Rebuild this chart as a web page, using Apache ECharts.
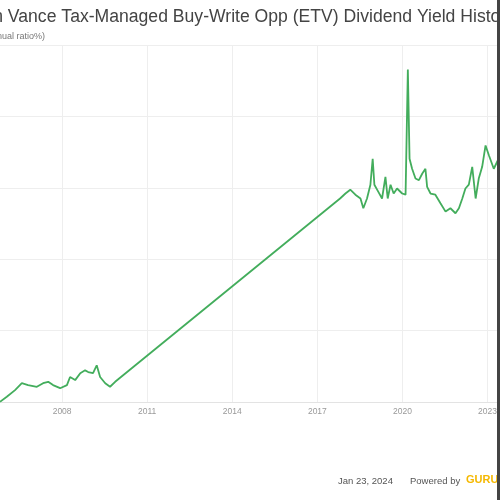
<!DOCTYPE html>
<html>
<head>
<meta charset="utf-8">
<script src="https://cdn.jsdelivr.net/npm/echarts@6/dist/echarts.min.js"></script>
<style>html,body{margin:0;padding:0;background:#fff;}#chart{width:500px;height:500px;}</style>
</head>
<body>
<div id="chart"></div>
<script>
const titleText = 'Eaton Vance Tax-Managed Buy-Write Opp (ETV) Dividend Yield History';
const subtitleText = '(Annual ratio%)';
const dateText = 'Jan 23, 2024';
const poweredText = 'Powered by';
const brandText = 'GURUFOCUS';
const tickYears = [2008, 2011, 2014, 2017, 2020, 2023];

const years = [2005.81, 2006.05, 2006.34, 2006.58, 2006.80, 2007.11, 2007.33, 2007.51, 2007.68, 2007.93,
  2008.17, 2008.28, 2008.46, 2008.64, 2008.81, 2008.92, 2009.09, 2009.22, 2009.34, 2009.52, 2009.69, 2009.87,
  2017.80, 2017.99, 2018.16, 2018.34, 2018.52, 2018.62, 2018.75, 2018.87, 2018.95, 2019.01, 2019.15, 2019.28,
  2019.40, 2019.48, 2019.58, 2019.69, 2019.81, 2019.99, 2020.11, 2020.19, 2020.25, 2020.34, 2020.46, 2020.58,
  2020.70, 2020.81, 2020.87, 2020.99, 2021.16, 2021.34, 2021.52, 2021.69, 2021.87, 2021.99, 2022.11, 2022.22,
  2022.34, 2022.46, 2022.58, 2022.69, 2022.81, 2022.93, 2023.05, 2023.22, 2023.39];
const yields = [0.01, 0.22, 0.50, 0.79, 0.71, 0.64, 0.79, 0.85, 0.71, 0.58,
  0.71, 1.05, 0.92, 1.21, 1.33, 1.26, 1.21, 1.54, 1.05, 0.79, 0.64, 0.85,
  8.55, 8.76, 8.92, 8.71, 8.55, 8.14, 8.55, 9.13, 10.22, 9.13, 8.83, 8.55,
  9.46, 8.55, 9.13, 8.76, 8.97, 8.76, 8.71, 13.97, 10.22, 9.80, 9.39, 9.32,
  9.60, 9.80, 9.04, 8.76, 8.71, 8.35, 8.00, 8.14, 7.93, 8.14, 8.55, 8.97,
  9.13, 9.88, 8.55, 9.39, 9.88, 10.78, 10.36, 9.80, 10.22];

const chart = echarts.init(document.getElementById('chart'), null, {renderer: 'canvas'});
chart.setOption({
  animation: false,
  backgroundColor: '#ffffff',
  title: [{
    text: titleText,
    left: -48,
    top: 3,
    textStyle: {fontFamily: 'Liberation Sans', fontSize: 17.6, fontWeight: 'normal', color: '#444'}
  }, {
    text: subtitleText,
    left: -22,
    top: 27,
    textStyle: {fontFamily: 'Liberation Sans', fontSize: 9, fontWeight: 'normal', color: '#777'}
  }],
  grid: {left: 0, right: 1, top: 45, bottom: 98, containLabel: false},
  xAxis: {
    type: 'value',
    min: 2005.81,
    max: 2023.4,
    axisLine: {show: true, lineStyle: {color: '#e3e3e3', width: 1}},
    axisTick: {show: false, customValues: tickYears},
    axisLabel: {customValues: tickYears, color: '#999', fontSize: 8.5, fontFamily: 'Liberation Sans', margin: 5,
      formatter: v => String(Math.round(v))},
    splitLine: {show: true, lineStyle: {color: '#eeeeee', width: 1}}
  },
  yAxis: {
    type: 'value',
    min: 0,
    max: 15,
    interval: 3,
    axisLine: {show: false},
    axisTick: {show: false},
    axisLabel: {show: false},
    splitLine: {show: true, lineStyle: {color: '#eeeeee', width: 1}}
  },
  series: [{
    type: 'line',
    data: years.map((y, i) => [y, yields[i]]),
    showSymbol: false,
    lineStyle: {color: '#43ad5c', width: 1.8},
    itemStyle: {color: '#43ad5c'}
  }],
  graphic: [
    {type: 'text', left: 338, top: 476, style: {text: dateText, fill: '#555', font: '9.5px Liberation Sans'}},
    {type: 'text', left: 410, top: 476, style: {text: poweredText, fill: '#555', font: '9.5px Liberation Sans'}},
    {type: 'text', left: 466, top: 474, style: {text: brandText, fill: '#f5b800', font: 'bold 11px Liberation Sans'}},
    {type: 'rect', shape: {x: 497, y: 0, width: 3, height: 500}, style: {fill: '#444'}, z: 100}
  ]
});
</script>
</body>
</html>
